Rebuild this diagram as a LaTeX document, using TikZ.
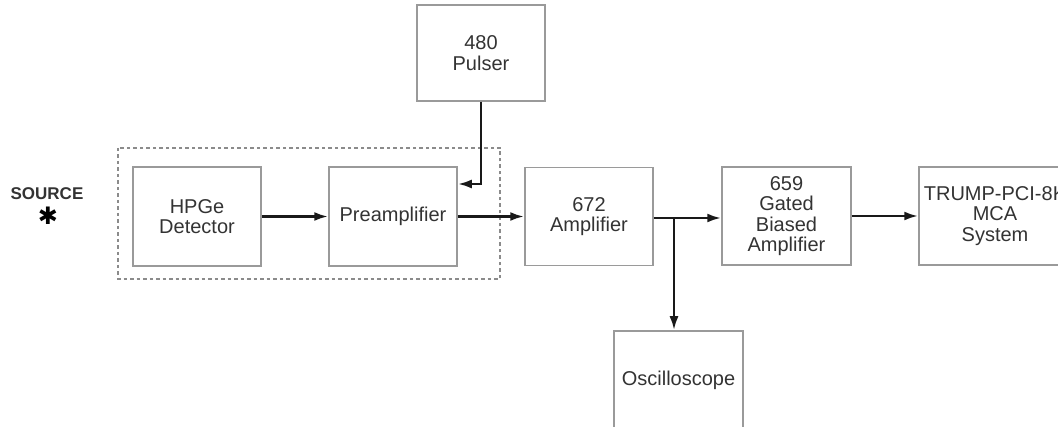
\documentclass[tikz,border=0pt]{standalone}
\usepackage{fontspec}
\setmainfont{Liberation Sans}
\newfontfamily\symfont{DejaVu Sans}
\usetikzlibrary{arrows.meta}
\definecolor{txt}{HTML}{333333}
\definecolor{boxc}{HTML}{9A9A9A}
\tikzset{
  blk/.style={draw=boxc, line width=1.5pt, rectangle, inner sep=0pt, align=center,
    text=txt, font=\fontsize{20}{20.5}\selectfont, minimum width=128pt, minimum height=99pt},
  arr/.style={draw=black!90, line width=2.6pt, -{Latex[length=14pt,width=9pt]}},
  dashbox/.style={draw=boxc!90!black, line width=1.4pt, dash pattern=on 3.5pt off 3pt},
}
\begin{document}
\begin{tikzpicture}[x=1pt,y=-1pt]
\useasboundingbox (0,0) rectangle (1058,427);
\clip (0,0) rectangle (1058,427);
% source
\node[text=txt, font=\bfseries\fontsize{17}{17}\selectfont] (src) at (47,194) {SOURCE};
\node[text=black, font=\symfont\fontsize{24}{24}\selectfont, inner sep=0pt] (star) at (48,216) {✱};
% boxes
\node[blk] (det) at (197,216.5) {HPGe\\Detector};
\node[blk] (pre) at (393,216.5) {Preamplifier};
\node[blk, minimum height=96pt] (pul) at (481,53) {480\\Pulser};
\node[blk, minimum height=98pt] (amp) at (589,216.5) {672\\Amplifier};
\node[blk, minimum width=129pt, minimum height=98pt] (gba) at (786.5,216) {659\\Gated\\Biased\\Amplifier};
\node[blk, minimum width=152pt, minimum height=98pt] (mca) at (995,216) {TRUMP-PCI-8K\\MCA\\System};
\node[blk, minimum width=129pt] (osc) at (678.5,380.5) {Oscilloscope};
% dashed enclosure
\draw[dashbox] (118,148) rectangle (500,279);
% connectors
\draw[arr] (det) -- (pre);
\draw[arr] (pre) -- (amp);
\draw[arr] (pul.south) |- ([yshift=32.5pt]pre.east);
\draw[arr] (amp.east |- 0,218) -- (gba.west |- 0,218);
\coordinate (br) at (674,218);
\draw[arr] (br) -- (br |- osc.north);
\draw[arr] (gba) -- (mca);
\end{tikzpicture}
\end{document}
